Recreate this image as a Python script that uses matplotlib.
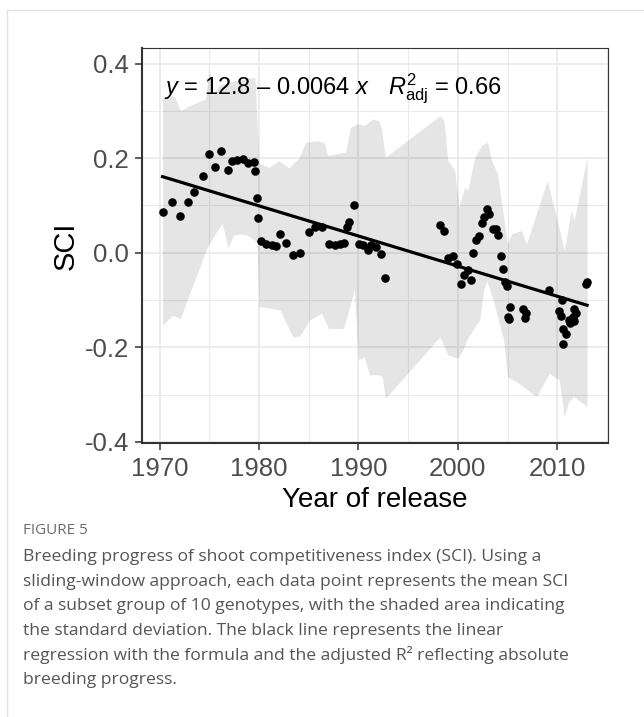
import numpy as np
import matplotlib
matplotlib.use('Agg')
import matplotlib.pyplot as plt
from matplotlib.lines import Line2D

plt.rcParams['font.family'] = ['Liberation Sans', 'DejaVu Sans']
plt.rcParams['mathtext.fontset'] = 'custom'
plt.rcParams['mathtext.rm'] = 'Liberation Sans'
plt.rcParams['mathtext.it'] = 'Liberation Sans:italic'

# mean SCI of each sliding window (year of release, SCI)
year = [1970.3, 1971.2, 1972.1, 1972.85, 1973.5, 1974.4, 1975.0, 1975.6, 1976.2, 1976.9,
        1977.3, 1977.8, 1978.4, 1978.9, 1979.5, 1979.6, 1979.8, 1979.9, 1980.2, 1980.7,
        1981.3, 1981.7, 1982.1, 1982.7, 1983.4, 1984.1, 1985.0, 1985.6, 1986.3, 1987.0,
        1987.6, 1988.1, 1988.6, 1988.9, 1989.1, 1989.6, 1990.05, 1990.5, 1991.0, 1991.3,
        1991.8, 1992.3, 1992.7, 1998.2, 1998.6, 1999.0, 1999.5, 1999.9, 2000.3, 2000.6,
        2001.0, 2001.3, 2001.5, 2001.8, 2002.1, 2002.4, 2002.6, 2002.9, 2003.1, 2003.5,
        2003.8, 2004.0, 2004.3, 2004.5, 2004.7, 2004.9, 2005.2, 2005.0, 2005.1, 2006.6,
        2006.9, 2006.8, 2009.2, 2010.5, 2010.2, 2010.4, 2010.6, 2010.9, 2010.6, 2011.3,
        2011.6, 2011.7, 2011.9, 2011.7, 2011.2, 2013.0, 2012.9]
sci = [0.087, 0.107, 0.078, 0.107, 0.128, 0.163, 0.209, 0.182, 0.216, 0.175,
       0.195, 0.197, 0.199, 0.190, 0.192, 0.173, 0.115, 0.073, 0.024, 0.019,
       0.017, 0.014, 0.040, 0.021, -0.004, -0.001, 0.044, 0.054, 0.054, 0.019,
       0.016, 0.019, 0.021, 0.054, 0.065, 0.100, 0.019, 0.017, 0.005, 0.016,
       0.012, -0.002, -0.054, 0.059, 0.046, -0.012, -0.007, -0.024, -0.066, -0.047,
       -0.037, -0.058, 0.000, 0.028, 0.035, 0.062, 0.076, 0.093, 0.081, 0.051,
       0.051, 0.038, -0.007, -0.035, -0.062, -0.071, -0.114, -0.135, -0.141, -0.119,
       -0.128, -0.137, -0.078, -0.100, -0.123, -0.134, -0.162, -0.172, -0.192, -0.149,
       -0.135, -0.118, -0.127, -0.144, -0.142, -0.062, -0.066]

# mean +/- SD band
hi_x = [1970.3, 1971.5, 1972.1, 1972.9, 1974.0, 1974.6, 1975.0, 1975.3, 1976.0, 1977.0,
        1978.0, 1979.0, 1979.6, 1980.0, 1981.0, 1982.0, 1983.0, 1984.0, 1984.7, 1985.9,
        1986.6, 1986.9, 1988.7, 1989.2, 1989.9, 1990.6, 1991.4, 1992.0, 1992.3, 1992.7,
        1998.2, 1998.6, 1999.0, 1999.7, 2000.1, 2000.7, 2001.0, 2001.7, 2002.4, 2003.0,
        2003.4, 2004.0, 2004.7, 2005.0, 2005.4, 2006.4, 2006.9, 2009.0, 2009.9, 2010.4,
        2010.7, 2011.4, 2011.7, 2013.0]
hi_y = [0.330, 0.330, 0.301, 0.310, 0.320, 0.325, 0.392, 0.332, 0.355, 0.360,
        0.365, 0.370, 0.370, 0.190, 0.180, 0.195, 0.180, 0.200, 0.234, 0.237,
        0.232, 0.206, 0.213, 0.265, 0.273, 0.269, 0.283, 0.280, 0.265, 0.202,
        0.290, 0.280, 0.195, 0.174, 0.097, 0.139, 0.132, 0.202, 0.227, 0.234,
        0.195, 0.167, 0.062, 0.019, 0.040, 0.047, 0.019, 0.153, 0.076, 0.033,
        0.005, 0.090, 0.069, 0.202]
lo_x = [1970.3, 1971.3, 1972.1, 1972.9, 1974.8, 1975.8, 1976.3, 1976.9, 1977.4, 1978.1,
        1978.8, 1979.3, 1979.8, 1980.0, 1981.4, 1982.1, 1983.4, 1984.1, 1985.1, 1986.3,
        1987.0, 1988.5, 1989.6, 1990.0, 1990.6, 1991.1, 1992.1, 1992.4, 1992.7, 1998.2,
        1999.0, 2000.0, 2000.5, 2001.0, 2002.2, 2002.6, 2002.9, 2003.6, 2004.6, 2005.0,
        2005.9, 2007.9, 2009.2, 2010.2, 2010.7, 2011.1, 2011.6, 2013.0]
lo_y = [-0.153, -0.132, -0.139, -0.093, 0.012, 0.047, 0.062, 0.009, 0.037, 0.040,
        0.037, 0.030, 0.023, -0.114, -0.118, -0.121, -0.178, -0.176, -0.142, -0.128,
        -0.160, -0.160, -0.079, -0.227, -0.220, -0.258, -0.258, -0.262, -0.308, -0.178,
        -0.216, -0.223, -0.206, -0.180, -0.142, -0.079, -0.058, -0.104, -0.185, -0.262,
        -0.273, -0.304, -0.255, -0.269, -0.346, -0.318, -0.304, -0.325]

# regression line ends
fit_x = [1970.3, 2013.0]
fit_y = [0.161, -0.111]

xticks = [1970, 1980, 1990, 2000, 2010]
yticks = [-0.4, -0.2, 0.0, 0.2, 0.4]
ytick_labels = ['-0.4', '-0.2', '0.0', '0.2', '0.4']

caption = ["Breeding progress of shoot competitiveness index (SCI). Using a",
           "sliding-window approach, each data point represents the mean SCI",
           "of a subset group of 10 genotypes, with the shaded area indicating",
           "the standard deviation. The black line represents the linear",
           "regression with the formula and the adjusted R\u00b2 reflecting absolute",
           "breeding progress."]

fig = plt.figure(figsize=(6.44, 7.17), dpi=100)
ax = fig.add_axes([0.220, 0.3817, 0.724, 0.5513])

# band: put upper and lower edges on one x grid
bx = np.array(sorted(set(hi_x) | set(lo_x)))
ax.fill_between(bx, np.interp(bx, lo_x, lo_y), np.interp(bx, hi_x, hi_y),
                color='black', alpha=0.1, linewidth=0, zorder=2)
ax.scatter(year, sci, s=38, color='black', linewidths=0, zorder=3)
ax.plot(fit_x, fit_y, color='black', linewidth=2.3, zorder=4)

ax.text(1970.4, 0.336, r'$y$ = 12.8 – 0.0064 $x$', fontsize=17, va='baseline', ha='left', zorder=5)
ax.text(1993.0, 0.336, r'$R^2_{\mathrm{adj}}$ = 0.66', fontsize=17, va='baseline', ha='left', zorder=5)

ax.set_xlim(1968.2, 2015.1)
ax.set_ylim(-0.403, 0.433)
ax.set_xticks(xticks)
ax.set_yticks(yticks)
ax.set_yticklabels(ytick_labels)
ax.set_xticks([1975, 1985, 1995, 2005, 2015], minor=True)
ax.set_yticks([-0.3, -0.1, 0.1, 0.3], minor=True)
ax.grid(which='major', color='#ebebeb', linewidth=1.3, zorder=0)
ax.grid(which='minor', color='#ebebeb', linewidth=0.8, zorder=0)
ax.set_axisbelow(True)
ax.tick_params(which='major', direction='out', length=5, width=1.1, color='#333333',
               labelsize=18.5, labelcolor='#4d4d4d')
ax.tick_params(axis='x', which='major', pad=5)
ax.tick_params(axis='y', which='major', pad=4)
ax.tick_params(which='minor', length=0)
for side in ['top', 'right']:
    ax.spines[side].set_color('#333333')
    ax.spines[side].set_linewidth(0.8)
for side in ['left', 'bottom']:
    ax.spines[side].set_color('#333333')
    ax.spines[side].set_linewidth(1.5)

ax.set_xlabel('Year of release', fontsize=20, labelpad=4)
ax.set_ylabel('SCI', fontsize=21, labelpad=4)

# outer frame lines of the figure image
fig.add_artist(Line2D([7 / 644, 7 / 644], [0, 1 - 10 / 717], color='#e3e3e3', linewidth=1))
fig.add_artist(Line2D([7 / 644, 1], [1 - 10 / 717, 1 - 10 / 717], color='#e3e3e3', linewidth=1))

fig.text(23 / 644, 1 - 530 / 717, 'FIGURE 5', fontsize=11, color='#6b6b6b',
         family=['Open Sans', 'DejaVu Sans'], va='center', ha='left')
for i, line in enumerate(caption):
    fig.text(23 / 644, 1 - (557 + 24.6 * i) / 717, line, fontsize=12.6, color='#555555',
             family=['Open Sans', 'DejaVu Sans'], va='center', ha='left')

fig.savefig('out.png', dpi=100)
